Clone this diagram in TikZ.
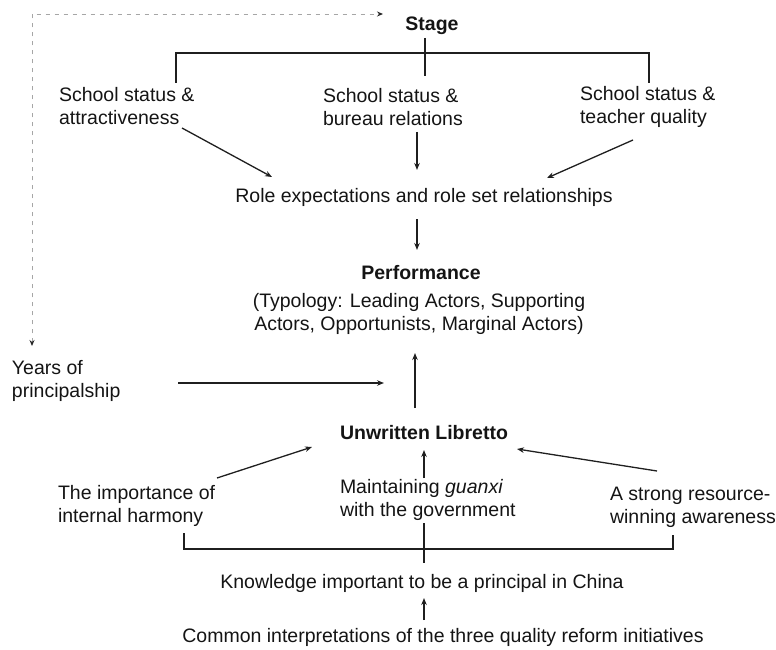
\documentclass[tikz,border=0pt]{standalone}
\usepackage{fontspec}
\setmainfont{Liberation Sans}
\usetikzlibrary{calc,arrows.meta}

\begin{document}
\begin{tikzpicture}[x=1pt,y=-1pt,
    every node/.style={inner sep=0pt,outer sep=0pt,text=black!92},
    lbl/.style={font=\fontsize{19.5}{23}\selectfont,align=left},
    ctr/.style={font=\fontsize{19.5}{23}\selectfont,align=center},
    hdr/.style={font=\fontsize{19.5}{23}\selectfont\bfseries,align=center},
    wire/.style={draw=black!88,line width=1.3pt},
    arr/.style={wire,-{Stealth[length=7pt,width=5.5pt]}},
    faint/.style={draw=black!35,line width=0.9pt,dash pattern=on 4pt off 5pt,
      {Stealth[length=6pt,width=5pt,color=black!85]}-{Stealth[length=6pt,width=5pt,color=black!85]}}]
\useasboundingbox (0,0) rectangle (776,650);

% ---- nodes ----
\node[hdr] (stage) at (432,26) {Stage};
\node[lbl,anchor=west] (att) at (59,106) {School status \&\\attractiveness};
\node[lbl,anchor=west] (bur) at (323,107) {School status \&\\bureau relations};
\node[lbl,anchor=west] (tea) at (580,107) {School status \&\\teacher quality};
\node[ctr] (role) at (424,197) {Role expectations and role set relationships};
\node[hdr] (perf) at (421,273) {Performance};
\node[ctr] (typo) at (419,313.5) {(Typology: Leading Actors, Supporting\\Actors, Opportunists, Marginal Actors)};
\node[lbl,anchor=west] (years) at (12,380.5) {Years of\\principalship};
\node[hdr] (lib) at (424,433) {Unwritten Libretto};
\node[lbl,anchor=west] (imp) at (58,506) {The importance of\\internal harmony};
\node[lbl,anchor=west] (gua) at (340,500) {Maintaining \textit{guanxi}\\with the government};
\node[lbl,anchor=west] (res) at (610,507) {A strong resource-\\winning awareness};
\node[ctr] (know) at (422,583) {Knowledge important to be a principal in China};
\node[ctr] (common) at (443,637) {Common interpretations of the three quality reform initiatives};

% ---- stage bracket ----
\coordinate (hub) at ($(stage)+(-7,27)$);
\draw[wire] ($(stage)+(-7,12)$) -- ($(bur.west)+(102,-31)$);
\draw[wire] ($(att.west)+(117,-23)$) |- (hub) -| ($(tea.west)+(69,-24)$);

% ---- stage factors into role expectations ----
\draw[arr] ($(att.west)+(123,22)$) -- ($(role)+(-152,-20)$);
\draw[arr] ($(bur.west)+(94,25)$) -- ($(role)+(-7,-27)$);
\draw[arr] ($(tea.west)+(53,33)$) -- ($(role)+(123,-19)$);
\draw[arr] ($(role)+(-7,22)$) -- ($(perf)+(-4,-23)$);

% ---- into performance ----
\draw[arr] ($(lib)+(-9,-25)$) -- ($(typo)+(-4,39.5)$);
\draw[arr] ($(years.west)+(166,2.5)$) -- ($(typo)+(-35,69.5)$);

% ---- into the libretto ----
\draw[arr] ($(imp.west)+(159,-28)$) -- ($(lib)+(-112,14)$);
\draw[arr] ($(gua.west)+(84,-22)$) -- ($(lib)+(0,17)$);
\draw[arr] ($(res.west)+(47,-36)$) -- ($(lib)+(93,16)$);

% ---- knowledge bracket ----
\coordinate (hubb) at ($(know)+(2,-34)$);
\draw[wire] ($(imp.west)+(126,27)$) |- (hubb) -| ($(res.west)+(63,28)$);
\draw[wire] ($(gua.west)+(84,23)$) -- ($(know)+(2,-20)$);
\draw[arr] ($(common)+(-19,-17)$) -- ($(know)+(2,15)$);

% ---- dashed link between years and stage ----
\coordinate (corner) at ($(years.west)+(20,-366.5)$);
\draw[faint] ($(years.west)+(20,-34.5)$) -- (corner) -- ($(stage)+(-49,-12)$);
\end{tikzpicture}
\end{document}
